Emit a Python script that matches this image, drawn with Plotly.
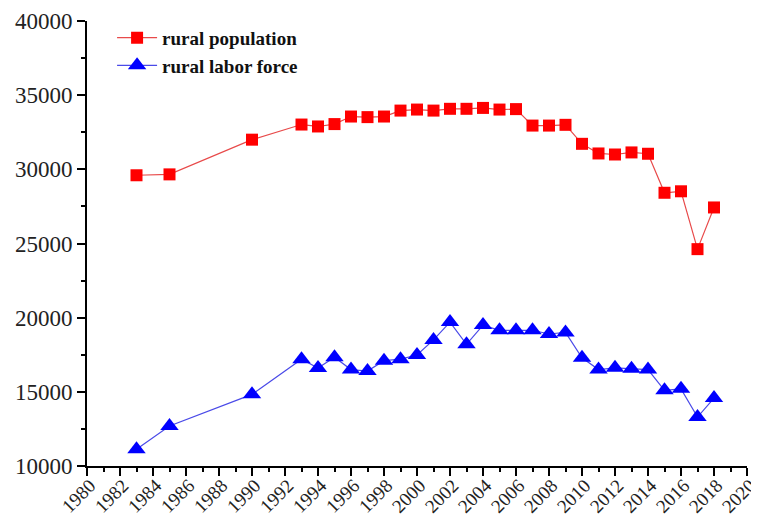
import plotly.graph_objects as go

years = [1983, 1985, 1990, 1993, 1994, 1995, 1996, 1997, 1998, 1999, 2000,
         2001, 2002, 2003, 2004, 2005, 2006, 2007, 2008, 2009, 2010, 2011,
         2012, 2013, 2014, 2015, 2016, 2017, 2018]
rural_population = [29600, 29660, 32000, 33020, 32890, 33050, 33560, 33520, 33560,
                    33960, 34030, 33960, 34080, 34080, 34140, 34030, 34060, 32950,
                    32950, 33000, 31720, 31070, 31000, 31140, 31050, 28420, 28520,
                    24620, 27430]
rural_labor = [11130, 12700, 14830, 17200, 16600, 17330, 16500, 16400, 17100,
               17200, 17480, 18500, 19700, 18200, 19500, 19150, 19150, 19150,
               18900, 19000, 17300, 16500, 16620, 16550, 16500, 15100, 15200,
               13300, 14580]

font_family = "Liberation Serif"

fig = go.Figure()
fig.add_trace(go.Scatter(
    x=years, y=rural_population, mode="lines+markers",
    name="<b>rural population</b>",
    line=dict(color="#e84a4a", width=1.2),
    marker=dict(symbol="square", size=12, color="#ff0000"),
))
fig.add_trace(go.Scatter(
    x=years, y=rural_labor, mode="lines+markers",
    name="<b>rural labor force</b>",
    line=dict(color="#4a4ae8", width=1.2),
    marker=dict(symbol="triangle-up", size=16, color="#0000ff"),
))

# page body adds an 8px offset; figure sized so the plot area lands where the reference has it
fig.update_layout(
    width=751, height=512,
    margin=dict(l=79, r=12, t=11, b=54),
    paper_bgcolor="white", plot_bgcolor="white",
    font=dict(family=font_family, color="#222222"),
    showlegend=True,
    legend=dict(x=0.038, y=1.005, xanchor="left", yanchor="top",
                font=dict(family=font_family, size=19, color="#111111"),
                bgcolor="rgba(0,0,0,0)", itemwidth=40, tracegroupgap=0),
    xaxis=dict(
        range=[1980, 2020], tickmode="linear", tick0=1980, dtick=2,
        tickformat="d", automargin=False, ticklabeloverflow="allow",
        ticklabelstandoff=-9, ticklabelshift=3,
        ticks="outside", ticklen=8, tickwidth=2, tickcolor="black",
        showline=True, linecolor="black", linewidth=2,
        showgrid=False, zeroline=False,
        tickangle=-45, tickfont=dict(family=font_family, size=19, color="#222222"),
        minor=dict(dtick=1, ticks="outside", ticklen=4, tickwidth=2, tickcolor="black"),
    ),
    yaxis=dict(
        range=[10000, 40000], tickmode="linear", tick0=10000, dtick=5000,
        tickformat="d", automargin=False, ticklabeloverflow="allow",
        ticks="outside", ticklen=8, tickwidth=2, tickcolor="black",
        showline=True, linecolor="black", linewidth=2,
        showgrid=False, zeroline=False,
        tickfont=dict(family=font_family, size=23, color="#222222"),
        minor=dict(dtick=2500, ticks="outside", ticklen=4, tickwidth=2, tickcolor="black"),
    ),
)

fig.write_html("out.html")
